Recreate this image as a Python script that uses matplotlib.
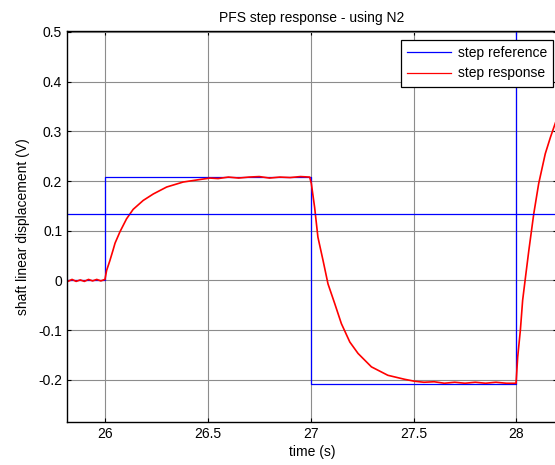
import matplotlib
matplotlib.use('Agg')
from matplotlib import pyplot as plt

# step reference (blue)
ref_t = [25.8, 26.0, 26.0, 27.0, 27.0, 28.0, 28.0, 28.2]
ref_v = [0.0, 0.0, 0.209, 0.209, -0.209, -0.209, 0.6, 0.6]
ref_line = 0.133

# step response (red)
resp_t = [25.80, 25.82, 25.84, 25.86, 25.88, 25.90, 25.92, 25.94, 25.96, 25.98, 26.00,
          26.008, 26.024, 26.040, 26.049, 26.073, 26.105, 26.137, 26.186, 26.235, 26.30,
          26.38, 26.46, 26.51,
          26.55, 26.60, 26.65, 26.70, 26.75, 26.80, 26.85, 26.90, 26.95, 26.995,
          27.003, 27.019, 27.035, 27.060, 27.084, 27.117, 27.149, 27.190, 27.230, 27.295,
          27.375, 27.456, 27.505,
          27.55, 27.60, 27.65, 27.70, 27.75, 27.80, 27.85, 27.90, 27.95, 27.998,
          28.006, 28.019, 28.030, 28.044, 28.060, 28.084, 28.108, 28.140, 28.165, 28.190, 28.20]
resp_v = [0.001, -0.002, 0.002, -0.002, 0.001, -0.002, 0.002, -0.001, 0.002, -0.001, 0.002,
          0.020, 0.040, 0.062, 0.075, 0.098, 0.124, 0.143, 0.161, 0.174, 0.188,
          0.198, 0.203, 0.206,
          0.205, 0.208, 0.206, 0.208, 0.209, 0.206, 0.208, 0.207, 0.209, 0.208,
          0.195, 0.147, 0.087, 0.040, -0.007, -0.047, -0.087, -0.124, -0.147, -0.174,
          -0.191, -0.199, -0.203,
          -0.205, -0.204, -0.207, -0.205, -0.207, -0.205, -0.207, -0.205, -0.207, -0.207,
          -0.154, -0.100, -0.040, 0.007, 0.060, 0.134, 0.195, 0.255, 0.288, 0.318, 0.325]

xticks = [26, 26.5, 27, 27.5, 28]
xticklabels = ['26', '26.5', '27', '27.5', '28']
yticks = [-0.2, -0.1, 0, 0.1, 0.2, 0.3, 0.4, 0.5]
yticklabels = ['-0.2', '-0.1', '0', '0.1', '0.2', '0.3', '0.4', '0.5']

plt.rcParams['font.family'] = ['Liberation Sans', 'DejaVu Sans']

fig = plt.figure(figsize=(5.55, 4.65), dpi=100)
ax = fig.add_axes([67 / 555, 43 / 465, 490 / 555, 390.5 / 465])

ax.plot(ref_t, ref_v, color='#0000ff', lw=0.9, label='step reference')
ax.plot(resp_t, resp_v, color='#ff0000', lw=1.2, label='step response')
ax.plot([25.8, 28.2], [ref_line, ref_line], color='#0000ff', lw=0.9)

ax.set_xlim(25.8155, 28.197)
ax.set_ylim(-0.285, 0.501)
ax.set_xticks(xticks)
ax.set_xticklabels(xticklabels)
ax.set_yticks(yticks)
ax.set_yticklabels(yticklabels)
ax.tick_params(direction='in', length=3, top=True, right=True, labelsize=10, colors='black')
ax.grid(True, color='#8c8c8c', lw=0.8)
for s in ax.spines.values():
    s.set_linewidth(1.0)

ax.set_title('PFS step response - using N2', fontsize=10, pad=7)
ax.set_xlabel('time (s)', fontsize=10, labelpad=3)
ax.set_ylabel('shaft linear displacement (V)', fontsize=10, labelpad=6)

leg = ax.legend(loc='upper right', bbox_to_anchor=(553 / 555, (465 - 40) / 465),
                bbox_transform=fig.transFigure, fancybox=False, framealpha=1,
                edgecolor='black', fontsize=10, handlelength=3.2, handletextpad=0.45,
                borderpad=0.45, labelspacing=0.45, borderaxespad=0)
leg.get_frame().set_linewidth(0.9)
for line in leg.get_lines():
    line.set_linewidth(0.9)

fig.savefig('out.png', dpi=100)
